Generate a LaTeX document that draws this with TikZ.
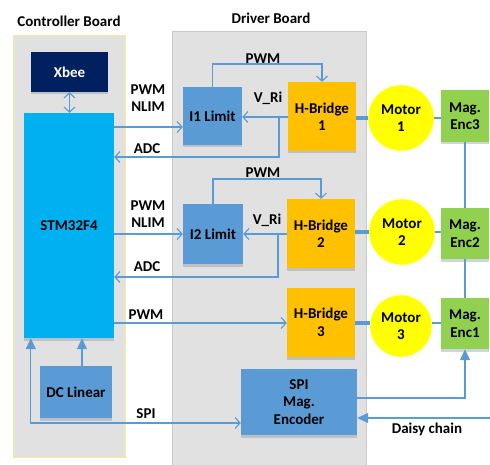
\documentclass[tikz,border=0pt]{standalone}
\usepackage{fontspec}
\setmainfont{Carlito}
\usepackage{tikz}
\usetikzlibrary{arrows.meta,positioning,shadows}
\definecolor{navy}{HTML}{002060}
\definecolor{stmblue}{HTML}{00B0F0}
\definecolor{midblue}{HTML}{5B9BD5}
\definecolor{hbamber}{HTML}{FFC000}
\definecolor{encgreen}{HTML}{92D050}
\definecolor{motoryellow}{HTML}{FFFF00}
\definecolor{panelgray}{HTML}{E1E1E1}
\definecolor{ctrledge}{HTML}{FFE699}
\definecolor{drvedge}{HTML}{C9C9C9}

\begin{document}
\begin{tikzpicture}[
    x=1pt, y=-1pt,
    font=\fontsize{15}{17.5}\selectfont\bfseries,
    box/.style={align=center, inner sep=0pt,
      drop shadow={shadow xshift=0pt, shadow yshift=-2.5pt, fill=gray!70!midblue, opacity=0.35}},
    motor/.style={circle, fill=motoryellow, draw=motoryellow!35!white, line width=0.8pt,
      align=center, minimum size=66pt, inner sep=0pt},
    lbl/.style={align=center, inner sep=0pt},
    arr/.style={-{Straight Barb[length=5pt,width=11pt]}, midblue, line width=1.1pt},
    dbl/.style={{Straight Barb[length=5pt,width=11pt]}-{Straight Barb[length=5pt,width=11pt]}, midblue, line width=1.1pt},
    tri/.style={-{Triangle[length=11pt,width=10pt]}, midblue, line width=1.1pt},
    link/.style={midblue, line width=1.1pt},
    shaft/.style={midblue, line width=3.5pt}
]
\useasboundingbox (0,0) rectangle (490,465);

\draw[ctrledge, fill=panelgray, line width=0.8pt] (13,35) rectangle (125,457);
\fill[panelgray] (172,31) rectangle (366,465);
\draw[drvedge, line width=0.8pt] (172,465) |- (366,31) -- (366,465);
\node[lbl] (ctitle) at (69,21) {Controller Board};
\node[lbl] (dtitle) at (271,18) {Driver Board};

\node[box, fill=navy, text=white, minimum width=77pt, minimum height=40pt] (xbee) at (69.5,72) {Xbee};
\node[box, fill=stmblue, minimum width=90pt, minimum height=225pt] (stm) at (69,225.5) {STM32F4};
\node[box, fill=midblue, minimum width=72pt, minimum height=52pt] (dclin) at (76,392) {DC Linear};

\node[box, fill=midblue, minimum width=59pt, minimum height=58pt] (lim1) at (212.5,116) {I1 Limit};
\node[box, fill=hbamber, minimum width=68pt, minimum height=69pt] (hb1) at (322,116.5) {H-Bridge\\1};
\node[motor] (mot1) at (401,118) {Motor\\1};
\node[box, fill=encgreen, minimum width=48pt, minimum height=52pt] (enc3) at (465,116) {Mag.\\Enc3};

\node[box, fill=midblue, minimum width=60pt, minimum height=60pt] (lim2) at (213,234) {I2 Limit};
\node[box, fill=hbamber, minimum width=68pt, minimum height=69pt] (hb2) at (321,233.5) {H-Bridge\\2};
\node[motor] (mot2) at (402,232) {Motor\\2};
\node[box, fill=encgreen, minimum width=48pt, minimum height=51pt] (enc2) at (465,233.5) {Mag.\\Enc2};

\node[box, fill=hbamber, minimum width=68pt, minimum height=69pt] (hb3) at (321,322.5) {H-Bridge\\3};
\node[motor, minimum size=62pt] (mot3) at (401,326) {Motor\\3};
\node[box, fill=encgreen, minimum width=48pt, minimum height=51pt] (enc1) at (465,323.5) {Mag.\\Enc1};

\node[box, fill=midblue, minimum width=116pt, minimum height=66pt] (spienc) at (299,402) {SPI\\Mag.\\Encoder};

\draw[dbl] (xbee.south) -- (xbee.south |- stm.north);
\draw[tri] ([xshift=6pt]dclin.north) -- ([xshift=6pt]dclin.north |- stm.south);

\draw[arr] (stm.east |- 0,127) -- (lim1.west |- 0,127);
\node[lbl] (nlim1) at (148,98) {PWM\\NLIM};
\draw[arr] (lim1.north) -- (lim1.north |- 0,64) -| (hb1.north);
\node[lbl] (pwm1) at (263,59) {PWM};
\draw[arr] (hb1.west |- 0,117) -- (lim1.east |- 0,117);
\node[lbl] (vri1) at (268,98) {V\_Ri};
\coordinate (br1) at (279,117);
\draw[arr] (br1) |- (stm.east |- 0,157);
\node[lbl] (adc1) at (147,149) {ADC};
\draw[shaft] (hb1.east |- mot1) -- (mot1.west);
\draw[link] (mot1.east) -- (enc3.west |- mot1);

\draw[arr] (stm.east |- 0,234) -- (lim2.west |- 0,234);
\node[lbl] (nlim2) at (148,214) {PWM\\NLIM};
\draw[arr] (lim2.north) -- (lim2.north |- 0,179) -| (hb2.north);
\node[lbl] (pwm2) at (263,173) {PWM};
\draw[arr] (hb2.west |- 0,234) -- (lim2.east |- 0,234);
\node[lbl] (vri2) at (267,220) {V\_Ri};
\coordinate (br2) at (278,234);
\draw[arr] (br2) |- (stm.east |- 0,277);
\node[lbl] (adc2) at (147,267) {ADC};
\draw[shaft] (hb2.east |- mot2) -- (mot2.west);
\draw[link] (mot2.east) -- (enc2.west |- mot2);

\draw[arr] (stm.east |- 0,323) -- (hb3.west |- 0,323);
\node[lbl] (pwm3) at (146,315) {PWM};
\draw[shaft] (hb3.east |- 0,323) -- (mot3.west |- 0,323);
\draw[link] (mot3.east |- 0,323) -- (enc1.west |- 0,323);

\draw[link] (enc3.south) -- (enc2.north);
\draw[link] (enc2.south) -- (enc1.north);

\draw[{Triangle[length=11pt,width=10pt]}-{Straight Barb[length=5pt,width=11pt]}, link]
  ([xshift=7pt]stm.south west) |- (spienc.west |- 0,423);
\node[lbl] (spi) at (146,414) {SPI};
\draw[tri] (spienc.east |- 0,398) -| (enc1.south);
\coordinate (chainin) at (490,418);
\draw[tri] (chainin) -- (spienc.east |- chainin);
\node[lbl] (daisy) at (427,429) {Daisy chain};
\end{tikzpicture}
\end{document}
